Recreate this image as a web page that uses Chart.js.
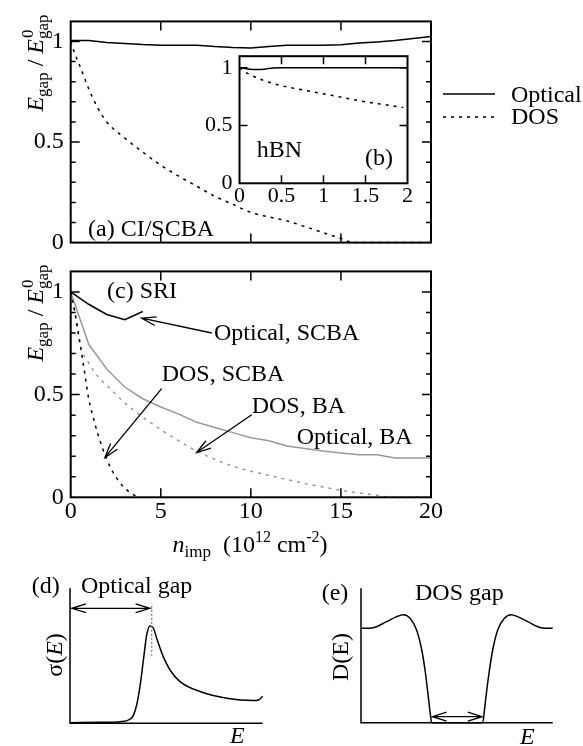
<!DOCTYPE html>
<html>
<head>
<meta charset="utf-8">
<title>Gap vs impurity density</title>
<script src="https://cdn.jsdelivr.net/npm/chart.js@4.4.1/dist/chart.umd.min.js"></script>
<style>
  body { margin: 0; background: #fff; }
  #fig { position: relative; width: 583px; height: 746px; overflow: hidden; background: #fff;
         font-family: 'Liberation Serif', 'Times New Roman', serif; color: #000; }
  #fig canvas { position: absolute; }
  .yt { position: absolute; font-size: 24px; line-height: 24px; white-space: nowrap;
        transform: translate(-50%, -50%) rotate(-90deg); }
  .xt { position: absolute; font-size: 24px; line-height: 24px; white-space: nowrap; transform: translateX(-50%); }
  .yt sub, .xt sub { font-size: 17px; line-height: 0; vertical-align: -5px; }
  .xt sup { font-size: 16px; line-height: 0; vertical-align: 10px; }
  .ss { position: relative; }
  .ss .up { position: absolute; left: 1px; top: -3px; font-size: 17px; line-height: 17px; }
</style>
</head>
<body>
<div id="fig">
  <canvas id="cA" width="583" height="264" style="left:0;top:0"></canvas>
  <canvas id="cB" width="230" height="179" style="left:190px;top:36px"></canvas>
  <canvas id="cC" width="583" height="280" style="left:0;top:250px"></canvas>
  <canvas id="cD" width="290" height="176" style="left:0;top:570px"></canvas>
  <canvas id="cE" width="293" height="176" style="left:290px;top:570px"></canvas>

  <div class="yt" style="left:35px;top:63px"><i>E</i><sub>gap</sub> / <i>E</i><span class="ss"><sub>gap</sub><span class="up">0</span></span></div>
  <div class="yt" style="left:35px;top:313px"><i>E</i><sub>gap</sub> / <i>E</i><span class="ss"><sub>gap</sub><span class="up">0</span></span></div>
  <div class="xt" style="left:250px;top:532px"><i>n</i><sub>imp</sub>&nbsp; (10<sup>12</sup> cm<sup>-2</sup>)</div>
</div>

<script>
const FONT = "'Liberation Serif', 'Times New Roman', serif";
const GRAY = '#999999';

// ---- (a) CI/SCBA, graphene ----
const nOptA = [0, 1, 2, 3, 4, 5, 6, 7, 8, 9, 10, 11, 12, 13, 14, 15, 16, 17, 18, 19, 20];
const optA  = [1.005, 1.005, 0.995, 0.99, 0.985, 0.982, 0.982, 0.982, 0.975, 0.97, 0.968,
               0.975, 0.982, 0.982, 0.982, 0.984, 0.992, 0.998, 1.005, 1.015, 1.025];
const nDosA = [0, 0.25, 0.5, 1, 1.5, 2, 3, 4, 5, 6, 7, 8, 9, 10, 11, 12, 13, 14, 15, 15.7, 17, 18, 19, 20];
const dosA  = [1, 0.935, 0.88, 0.765, 0.67, 0.6, 0.52, 0.45, 0.385, 0.33, 0.28, 0.23, 0.19, 0.15,
               0.128, 0.108, 0.08, 0.05, 0.02, 0, 0, 0, 0, 0];

// ---- (b) hBN inset ----
const nOptB = [0, 0.05, 0.1, 0.2, 0.3, 0.4, 0.5, 1, 1.5, 2];
const optB  = [1.0, 0.995, 0.99, 0.985, 0.988, 0.998, 1.0, 1.0, 1.0, 1.0];
const nDosB = [0, 0.05, 0.1, 0.25, 0.5, 0.75, 1, 1.25, 1.5, 1.75, 1.95];
const dosB  = [1, 0.975, 0.95, 0.9, 0.845, 0.808, 0.775, 0.74, 0.705, 0.678, 0.655];

// ---- (c) SRI ----
const nOptScba = [0, 1, 2, 3, 4];
const optScba  = [1, 0.94, 0.89, 0.865, 0.905];
const nDosScba = [0, 0.25, 0.5, 0.75, 1, 1.25, 1.5, 2, 2.5, 3, 3.5, 3.8];
const dosScba  = [1, 0.89, 0.76, 0.62, 0.48, 0.39, 0.31, 0.185, 0.1, 0.045, 0.012, 0];
const nOptBa = [0, 1, 2, 3, 4, 5, 6, 7, 8, 9, 10, 11, 12, 13, 14, 15, 16, 17, 18, 19, 20];
const optBa  = [1, 0.745, 0.625, 0.537, 0.48, 0.44, 0.405, 0.365, 0.34, 0.315, 0.29,
                0.275, 0.25, 0.238, 0.226, 0.216, 0.207, 0.207, 0.191, 0.191, 0.191];
const nDosBa = [0, 0.25, 0.5, 1, 1.5, 2, 3, 4, 5, 6, 7, 8, 9, 10, 11, 12, 13, 14, 15, 16, 17, 17.7, 20];
const dosBa  = [1, 0.9, 0.75, 0.655, 0.59, 0.545, 0.46, 0.39, 0.33, 0.275, 0.225, 0.185, 0.152,
                0.127, 0.107, 0.087, 0.067, 0.05, 0.034, 0.021, 0.01, 0, 0];

// ---- (d) optical conductivity sketch ----
const eD    = [0, 0.156, 0.26, 0.311, 0.33, 0.346, 0.363, 0.381, 0.398, 0.415, 0.433, 0.45,
               0.484, 0.519, 0.571, 0.675, 0.813, 0.952, 0.978, 1.0];
const sigma = [0.005, 0.007, 0.012, 0.03, 0.062, 0.136, 0.272, 0.469, 0.654, 0.721, 0.704, 0.63,
               0.494, 0.395, 0.309, 0.235, 0.185, 0.168, 0.173, 0.2];

// ---- (e) DOS sketch ----
const eE   = [0, 0.064, 0.134, 0.186, 0.221, 0.256, 0.29, 0.317, 0.334, 0.351, 0.36, 0.369,
              0.635, 0.643, 0.652, 0.67, 0.687, 0.713, 0.748, 0.783, 0.817, 0.87, 0.939, 1];
const dosE = [0.702, 0.707, 0.752, 0.789, 0.804, 0.777, 0.69, 0.541, 0.392, 0.194, 0.082, 0,
              0, 0.082, 0.194, 0.392, 0.541, 0.69, 0.777, 0.804, 0.789, 0.752, 0.707, 0.702];

// tick values
const nLabels = [0, 5, 10, 15, 20];
const nMarks = [5, 10, 15];
const gapLabels = [0, 0.5, 1];
const gapMajor = [0.5, 1];
const gapMinor = [0.1, 0.2, 0.3, 0.4, 0.6, 0.7, 0.8, 0.9];
const hbnLabels = [0, 0.5, 1, 1.5, 2];
const hbnMarks = [0.5, 1, 1.5];

const DOT = [3, 5];

const pts = (xs, ys) => xs.map((x, i) => ({ x, y: ys[i] }));

function lineSet(xs, ys, color, dash, smooth) {
  return {
    data: pts(xs, ys), borderColor: color, borderWidth: 1.5, borderDash: dash || [],
    pointRadius: 0, fill: false, clip: false,
    cubicInterpolationMode: smooth ? 'monotone' : 'default', tension: 0
  };
}

function axes(o) {
  const font = { family: FONT, size: o.size || 24 };
  const common = { type: 'linear', grid: { display: false, drawTicks: false }, border: { display: false } };
  return {
    x: Object.assign({}, common, {
      min: o.xMin, max: o.xMax,
      ticks: { display: !!o.xLabels, font, color: '#000', padding: 0, autoSkip: false, maxRotation: 0, callback: v => String(v) },
      afterBuildTicks: s => { s.ticks = (o.xLabels || []).map(v => ({ value: v })); },
      afterFit: s => { s.height = o.xHeight; }
    }),
    y: Object.assign({}, common, {
      min: o.yMin, max: o.yMax,
      ticks: { display: !!o.yLabels, font, color: '#000', padding: 7, callback: v => String(v) },
      afterBuildTicks: s => { s.ticks = (o.yLabels || []).map(v => ({ value: v })); },
      afterFit: s => { s.width = o.yWidth; }
    })
  };
}

function drawText(ctx, it) {
  const size = it.size || 24;
  const parts = it.parts || [{ t: it.t, it: it.italic }];
  ctx.save();
  ctx.translate(it.x, it.y);
  if (it.rot) ctx.rotate(it.rot);
  ctx.fillStyle = '#000';
  ctx.textBaseline = 'alphabetic';
  ctx.textAlign = 'left';
  const fontOf = p => (p.it ? 'italic ' : '') + size + 'px ' + FONT;
  let w = 0;
  parts.forEach(p => { ctx.font = fontOf(p); w += ctx.measureText(p.t).width; });
  let x = it.center ? -w / 2 : 0;
  parts.forEach(p => { ctx.font = fontOf(p); ctx.fillText(p.t, x, 0); x += ctx.measureText(p.t).width; });
  ctx.restore();
}

function arrowHead(ctx, tx, ty, fx, fy) {
  const ang = Math.atan2(ty - fy, tx - fx), L = 15, a = 0.3;
  ctx.moveTo(tx - L * Math.cos(ang - a), ty - L * Math.sin(ang - a));
  ctx.lineTo(tx, ty);
  ctx.lineTo(tx - L * Math.cos(ang + a), ty - L * Math.sin(ang + a));
}

function decor(cfg) {
  return {
    id: 'decor',
    beforeDraw(chart) {
      if (!cfg.fillArea) return;
      const a = chart.chartArea, ctx = chart.ctx;
      ctx.save();
      ctx.fillStyle = '#fff';
      ctx.fillRect(a.left, a.top, a.right - a.left, a.bottom - a.top);
      ctx.restore();
    },
    afterDraw(chart) {
      const ctx = chart.ctx, a = chart.chartArea;
      const sx = chart.scales.x, sy = chart.scales.y;
      ctx.save();
      ctx.strokeStyle = '#000';
      if (cfg.frame) {
        ctx.lineWidth = 2;
        ctx.strokeRect(a.left, a.top, a.right - a.left, a.bottom - a.top);
        const t = cfg.ticks;
        ctx.lineWidth = 1.5;
        ctx.beginPath();
        t.x.forEach(v => {
          const p = sx.getPixelForValue(v);
          ctx.moveTo(p, a.bottom); ctx.lineTo(p, a.bottom - t.len);
          ctx.moveTo(p, a.top); ctx.lineTo(p, a.top + t.len);
        });
        const yt = (vals, len) => vals.forEach(v => {
          const p = sy.getPixelForValue(v);
          ctx.moveTo(a.left, p); ctx.lineTo(a.left + len, p);
          ctx.moveTo(a.right, p); ctx.lineTo(a.right - len, p);
        });
        yt(t.yMajor, t.len);
        yt(t.yMinor || [], t.minLen || 0);
        ctx.stroke();
      }
      if (cfg.lAxes) {
        ctx.lineWidth = 1.5;
        ctx.beginPath();
        ctx.moveTo(a.left, a.top); ctx.lineTo(a.left, a.bottom); ctx.lineTo(a.right, a.bottom);
        ctx.stroke();
      }
      (cfg.vlines || []).forEach(l => {
        ctx.save();
        ctx.strokeStyle = l.color; ctx.lineWidth = 1.2; ctx.setLineDash(l.dash);
        ctx.beginPath();
        ctx.moveTo(sx.getPixelForValue(l.x), sy.getPixelForValue(l.y0));
        ctx.lineTo(sx.getPixelForValue(l.x), sy.getPixelForValue(l.y1));
        ctx.stroke();
        ctx.restore();
      });
      ctx.lineWidth = 1.3;
      (cfg.arrows || []).forEach(ar => {
        const x1 = sx.getPixelForValue(ar.from[0]), y1 = sy.getPixelForValue(ar.from[1]);
        const x2 = sx.getPixelForValue(ar.to[0]), y2 = sy.getPixelForValue(ar.to[1]);
        ctx.beginPath();
        ctx.moveTo(x1, y1); ctx.lineTo(x2, y2);
        arrowHead(ctx, x2, y2, x1, y1);
        if (ar.both) arrowHead(ctx, x1, y1, x2, y2);
        ctx.stroke();
      });
      (cfg.legend || []).forEach(lg => {
        const ds = chart.data.datasets[lg.ds];
        ctx.save();
        ctx.strokeStyle = ds.borderColor; ctx.lineWidth = ds.borderWidth; ctx.setLineDash(ds.borderDash);
        ctx.beginPath(); ctx.moveTo(lg.x0, lg.y); ctx.lineTo(lg.x1, lg.y); ctx.stroke();
        ctx.restore();
      });
      (cfg.texts || []).forEach(it => drawText(ctx, it));
      ctx.restore();
    }
  };
}

function makeChart(id, datasets, scaleOpts, padding, cfg) {
  return new Chart(document.getElementById(id), {
    type: 'line',
    data: { datasets },
    options: {
      responsive: false, animation: false, devicePixelRatio: 1, events: [],
      layout: { padding },
      plugins: { legend: { display: false }, tooltip: { enabled: false } },
      scales: axes(scaleOpts)
    },
    plugins: [decor(cfg)]
  });
}

function drawAll() {
  // (a)
  makeChart('cA',
    [lineSet(nOptA, optA, '#000'), lineSet(nDosA, dosA, '#000', DOT, true)],
    { xMin: 0, xMax: 20, yMin: 0, yMax: 1.1, yLabels: gapLabels, yWidth: 70.7, xHeight: 16 },
    { left: 0, top: 18.3, right: 152, bottom: 0 },
    {
      frame: true,
      ticks: { x: nMarks, yMajor: gapMajor, yMinor: gapMinor, len: 9, minLen: 5 },
      legend: [{ ds: 0, x0: 443, x1: 495, y: 94 }, { ds: 1, x0: 443, x1: 495, y: 117 }],
      texts: [
        { t: '(a) CI/SCBA', x: 88, y: 236 },
        { t: 'Optical', x: 511, y: 101.7 },
        { t: 'DOS', x: 511, y: 124.3 }
      ]
    });

  // (b) inset
  makeChart('cB',
    [lineSet(nOptB, optB, '#000', null, true), lineSet(nDosB, dosB, '#000', DOT, true)],
    { xMin: 0, xMax: 2, yMin: 0, yMax: 1.1, xLabels: hbnLabels, yLabels: gapLabels, yWidth: 49.5, xHeight: 31.7, size: 22 },
    { left: 0, top: 16, right: 12.5, bottom: 0 },
    {
      frame: true, fillArea: true,
      ticks: { x: hbnMarks, yMajor: gapMajor, len: 8 },
      texts: [
        { t: 'hBN', x: 66.7, y: 121 },
        { t: '(b)', x: 175, y: 129 }
      ]
    });

  // (c)
  makeChart('cC',
    [lineSet(nOptScba, optScba, '#000'), lineSet(nDosScba, dosScba, '#000', DOT, true),
     lineSet(nOptBa, optBa, GRAY), lineSet(nDosBa, dosBa, GRAY, DOT, true)],
    { xMin: 0, xMax: 20, yMin: 0, yMax: 1.1, xLabels: nLabels, yLabels: gapLabels, yWidth: 70.7, xHeight: 32.7 },
    { left: 0, top: 17.3, right: 152, bottom: 0 },
    {
      frame: true,
      ticks: { x: nMarks, yMajor: gapMajor, yMinor: gapMinor, len: 9, minLen: 5 },
      arrows: [
        { from: [7.83, 0.80], to: [3.94, 0.872] },
        { from: [5.05, 0.529], to: [1.9, 0.194] },
        { from: [10.05, 0.402], to: [6.99, 0.218] }
      ],
      texts: [
        { t: '(c) SRI', x: 107, y: 47.7 },
        { t: 'Optical, SCBA', x: 214, y: 90 },
        { t: 'DOS, SCBA', x: 161.7, y: 131 },
        { t: 'DOS, BA', x: 251.7, y: 162.5 },
        { t: 'Optical, BA', x: 296.7, y: 194 }
      ]
    });

  // (d)
  makeChart('cD',
    [lineSet(eD, sigma, '#000', null, true)],
    { xMin: 0, xMax: 1, yMin: 0, yMax: 1, yWidth: 70, xHeight: 22.7 },
    { left: 0, top: 18.3, right: 27.3, bottom: 0 },
    {
      lAxes: true,
      vlines: [{ x: 0.424, y0: 0.5, y1: 0.89, color: '#777', dash: [2, 2] }],
      arrows: [{ from: [0.009, 0.852], to: [0.415, 0.852], both: true }],
      texts: [
        { t: '(d)', x: 31.7, y: 23 },
        { t: 'Optical gap', x: 81, y: 23 },
        { t: 'E', italic: true, x: 230, y: 173 },
        { parts: [{ t: 'σ(' }, { t: 'E', it: true }, { t: ')' }], x: 62, y: 85, rot: -Math.PI / 2, center: true }
      ]
    });

  // (e)
  makeChart('cE',
    [lineSet(eE, dosE, '#000', null, true)],
    { xMin: 0, xMax: 1, yMin: 0, yMax: 1, yWidth: 71, xHeight: 23.3 },
    { left: 0, top: 18.3, right: 30.3, bottom: 0 },
    {
      lAxes: true,
      arrows: [{ from: [0.372, 0.045], to: [0.632, 0.045], both: true }],
      texts: [
        { t: '(e)', x: 31.7, y: 29.5 },
        { t: 'DOS gap', x: 125, y: 29.5 },
        { t: 'E', italic: true, x: 230, y: 174 },
        { t: 'D(E)', x: 58, y: 87, rot: -Math.PI / 2, center: true }
      ]
    });
}

// make sure the serif face is ready before the canvases are painted
const fontReady = document.fonts && document.fonts.load
  ? Promise.all([document.fonts.load("24px 'Liberation Serif'"), document.fonts.load("italic 24px 'Liberation Serif'")])
  : Promise.resolve();
fontReady.then(drawAll, drawAll);
</script>
</body>
</html>
